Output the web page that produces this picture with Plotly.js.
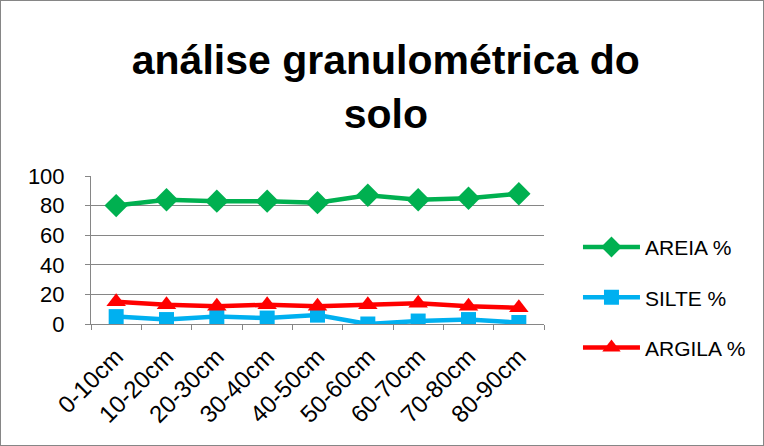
<!DOCTYPE html>
<html><head><meta charset="utf-8">
<script src="https://cdn.plot.ly/plotly-3.0.1.min.js"></script>
<style>html,body{margin:0;padding:0;background:#fff}#c{width:764px;height:446px;box-sizing:border-box;border:1px solid #868686}</style>
</head><body><div id="c"></div>
<script>
const categories = ["0-10cm","10-20cm","20-30cm","30-40cm","40-50cm","50-60cm","60-70cm","70-80cm","80-90cm"];
const areia = [80, 84, 83, 83, 82, 87, 84, 85, 88];
const silte = [5, 3, 5, 4, 6, 0, 2, 3, 1];
const argila = [15, 13, 12, 13, 12, 13, 14, 12, 11];
const yTicks = [0, 20, 40, 60, 80, 100];

const font = "Liberation Sans, Arial, sans-serif";
const traces = [
  {name:"AREIA %", x:categories, y:areia, type:"scatter", mode:"lines+markers", legendgroup:"a",
   line:{color:"#00B050", width:4.5}, marker:{symbol:"diamond", size:18, color:"#00B050"}},
  {name:"SILTE %", x:categories, y:silte, type:"scatter", mode:"lines+markers", legendgroup:"s",
   line:{color:"#00B0F0", width:4.5}, marker:{symbol:"square", size:15, color:"#00B0F0"}},
  {name:"ARGILA %", x:categories, y:argila, type:"scatter", mode:"lines+markers", legendgroup:"r",
   line:{color:"#FF0000", width:4.5}, marker:{symbol:"triangle-up", size:17, color:"#FF0000"}}
];
const layout = {
  width:762, height:444,
  margin:{l:90, r:216, t:175, b:121},
  paper_bgcolor:"#fff", plot_bgcolor:"#fff",
  title:{text:"análise granulométrica do<br>solo", font:{family:font, size:41, color:"#000", weight:"bold"},
         x:0.505, xanchor:"center", y:0.835, yanchor:"top"},
  showlegend:true,
  legend:{x:1.075, y:0.18, xanchor:"left", yanchor:"middle", font:{family:font, size:21, color:"#000"},
          tracegroupgap:20, itemwidth:57, bgcolor:"rgba(0,0,0,0)"},
  xaxis:{type:"category", range:[-0.5, 8.5], tickson:"boundaries", ticks:"outside", ticklen:5, tickcolor:"#868686",
         showline:true, linecolor:"#868686", linewidth:1, showgrid:false, tickangle:-45, ticklabelstandoff:8,
         tickfont:{family:font, size:24, color:"#000"}, fixedrange:true},
  yaxis:{range:[0, 100], tickvals:yTicks, ticktext:yTicks.map(String), showgrid:true, gridcolor:"#868686", gridwidth:1,
         showline:true, linecolor:"#868686", ticks:"outside", ticklen:5, tickcolor:"#868686", zeroline:false,
         ticklabelstandoff:16, tickfont:{family:font, size:22, color:"#000"}, fixedrange:true}
};
Plotly.newPlot("c", traces, layout, {displayModeBar:false, staticPlot:true});
</script></body></html>
